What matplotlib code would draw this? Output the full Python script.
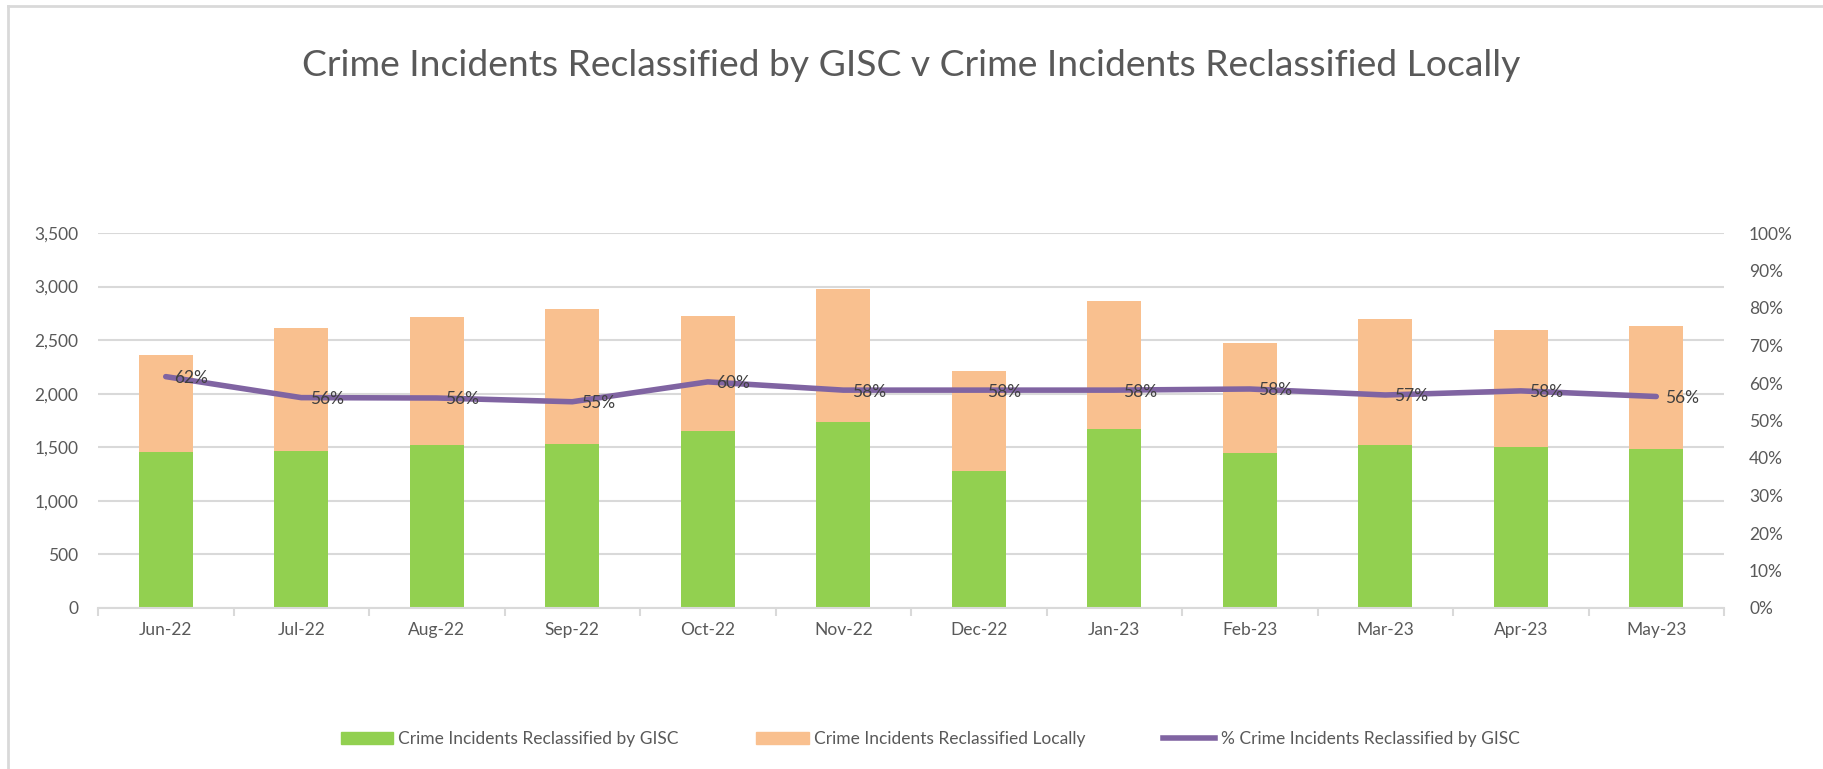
import numpy as np
import matplotlib
matplotlib.use('Agg')
import matplotlib.pyplot as plt
from matplotlib.lines import Line2D
from matplotlib.patches import Patch

plt.rcParams['font.family'] = ['Lato', 'DejaVu Sans']

# Data
months = ['Jun-22', 'Jul-22', 'Aug-22', 'Sep-22', 'Oct-22', 'Nov-22',
          'Dec-22', 'Jan-23', 'Feb-23', 'Mar-23', 'Apr-23', 'May-23']
gisc = [1456, 1466, 1519, 1531, 1652, 1736, 1279, 1671, 1448, 1519, 1503, 1487]
local = [907, 1149, 1198, 1261, 1075, 1239, 929, 1195, 1027, 1179, 1093, 1146]
pct_gisc = [0.617, 0.561, 0.560, 0.550, 0.603, 0.581, 0.581, 0.581, 0.584, 0.568, 0.579, 0.564]

green = '#92d050'
orange = '#f9c08f'
purple = '#8064a2'
grey_txt = '#595959'
grid_col = '#d9d9d9'

fig = plt.figure(figsize=(18.23, 7.69), dpi=100)
ax = fig.add_axes([98 / 1823, 1 - 608 / 769, (1724 - 98) / 1823, (608 - 233) / 769])
ax2 = ax.twinx()

x = np.arange(len(months))
ax.bar(x, gisc, width=0.4, color=green, zorder=2, label='Crime Incidents Reclassified by GISC')
ax.bar(x, local, width=0.4, bottom=gisc, color=orange, zorder=2, label='Crime Incidents Reclassified Locally')

ax.set_xlim(-0.5, len(months) - 0.5)
ax.set_ylim(0, 3500)
ax.set_yticks(np.arange(0, 3501, 500))
ax.yaxis.set_major_formatter(matplotlib.ticker.FuncFormatter(lambda v, p: f'{int(v):,}'))
ax.grid(axis='y', color=grid_col, lw=1.5, zorder=0)
ax.set_axisbelow(True)
for s in ['top', 'right', 'left']:
    ax.spines[s].set_visible(False)
ax.spines['bottom'].set_color(grid_col)
ax.spines['bottom'].set_linewidth(1.5)
ax.set_xticks(x)
ax.set_xticklabels(months)
ax.set_xticks(np.arange(-0.5, len(months)), minor=True)
ax.tick_params(axis='x', which='major', length=0, pad=10, labelsize=12.5, labelcolor=grey_txt)
ax.tick_params(axis='x', which='minor', length=6, width=1.5, color=grid_col)
ax.tick_params(axis='y', length=0, pad=14, labelsize=12.5, labelcolor=grey_txt)

ax2.plot(x, pct_gisc, color=purple, lw=4, solid_capstyle='round', zorder=3,
         label='% Crime Incidents Reclassified by GISC')
ax2.set_ylim(0, 1)
ax2.set_yticks(np.arange(0, 1.01, 0.1))
ax2.yaxis.set_major_formatter(matplotlib.ticker.FuncFormatter(lambda v, p: f'{v:.0%}'))
ax2.tick_params(axis='y', length=0, pad=18, labelsize=12.5, labelcolor=grey_txt)
for s in ax2.spines.values():
    s.set_visible(False)
for xi, p in zip(x, pct_gisc):
    ax2.annotate(f'{p:.0%}', (xi, p), xytext=(6, -1), textcoords='offset points',
                 ha='left', va='center', fontsize=12.5, color='#404040', zorder=4)

fig.text(0.5, 1 - 66 / 769, 'Crime Incidents Reclassified by GISC v Crime Incidents Reclassified Locally',
         ha='center', va='center', fontsize=26.8, color=grey_txt)

handles = [Patch(color=green), Patch(color=orange), Line2D([], [], color=purple, lw=4)]
labels = ['Crime Incidents Reclassified by GISC', 'Crime Incidents Reclassified Locally',
          '% Crime Incidents Reclassified by GISC']
fig.legend(handles, labels, loc='center', bbox_to_anchor=(930 / 1823, 1 - 739 / 769), ncol=3,
           frameon=False, fontsize=12.5, labelcolor=grey_txt, columnspacing=4.5,
           handlelength=3, handletextpad=0.3)

# chart frame (top and left edges visible)
fig.add_artist(Line2D([8 / 1823, 8 / 1823], [0, 1 - 6 / 769], color=grid_col, lw=2, transform=fig.transFigure))
fig.add_artist(Line2D([8 / 1823, 1], [1 - 6 / 769, 1 - 6 / 769], color=grid_col, lw=2, transform=fig.transFigure))

fig.savefig('out.png', dpi=100)
